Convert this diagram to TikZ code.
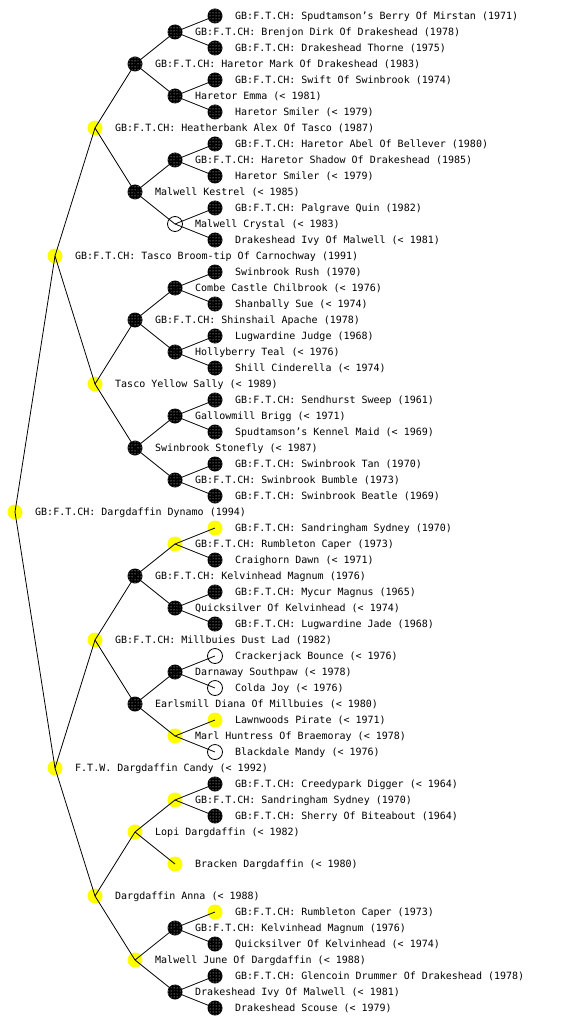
\documentclass[tikz,border=0pt]{standalone}
\usepackage{fontspec}
\usetikzlibrary{patterns}
\newfontfamily\pedfont{DejaVu Sans Mono}
\definecolor{dogyellow}{HTML}{FFFF00}

\tikzset{
  dog/.style={circle, minimum size=15pt, inner sep=0pt},
  darkdog/.style={dog, preaction={fill=black}, pattern=dots, pattern color=white},
  yellowdog/.style={dog, fill=dogyellow},
  blankdog/.style={dog, draw=black, fill=white, line width=0.8pt},
  dogname/.style={anchor=base west, inner sep=0pt, font=\pedfont},
  lineage/.style={line width=0.8pt},
}
% one entry of the pedigree: marker and its name beside it
\newcommand{\dog}[5]{%
  \node[#4] (#1) at (#2,#3) {};
  \node[dogname] (#1n) at (#2+20,#3+3.6) {#5};}

\begin{document}
\begin{tikzpicture}[x=1pt, y=-1pt]
  \fill[white] (0,0) rectangle (560,1024);
  \useasboundingbox (0,0) rectangle (560,1024);

  % the dog and its parents
  \dog{p}{15}{512}{yellowdog}{GB:F.T.CH: Dargdaffin Dynamo (1994)}
  \dog{ps}{55}{256}{yellowdog}{GB:F.T.CH: Tasco Broom-tip Of Carnochway (1991)}
  \dog{pd}{55}{768}{yellowdog}{F.T.W. Dargdaffin Candy (< 1992)}
  % grandparents
  \dog{pss}{95}{128}{yellowdog}{GB:F.T.CH: Heatherbank Alex Of Tasco (1987)}
  \dog{psd}{95}{384}{yellowdog}{Tasco Yellow Sally (< 1989)}
  \dog{pds}{95}{640}{yellowdog}{GB:F.T.CH: Millbuies Dust Lad (1982)}
  \dog{pdd}{95}{896}{yellowdog}{Dargdaffin Anna (< 1988)}
  % third generation
  \dog{psss}{135}{64}{darkdog}{GB:F.T.CH: Haretor Mark Of Drakeshead (1983)}
  \dog{pssd}{135}{192}{darkdog}{Malwell Kestrel (< 1985)}
  \dog{psds}{135}{320}{darkdog}{GB:F.T.CH: Shinshail Apache (1978)}
  \dog{psdd}{135}{448}{darkdog}{Swinbrook Stonefly (< 1987)}
  \dog{pdss}{135}{576}{darkdog}{GB:F.T.CH: Kelvinhead Magnum (1976)}
  \dog{pdsd}{135}{704}{darkdog}{Earlsmill Diana Of Millbuies (< 1980)}
  \dog{pdds}{135}{832}{yellowdog}{Lopi Dargdaffin (< 1982)}
  \dog{pddd}{135}{960}{yellowdog}{Malwell June Of Dargdaffin (< 1988)}
  % fourth generation
  \dog{pssss}{175}{32}{darkdog}{GB:F.T.CH: Brenjon Dirk Of Drakeshead (1978)}
  \dog{psssd}{175}{96}{darkdog}{Haretor Emma (< 1981)}
  \dog{pssds}{175}{160}{darkdog}{GB:F.T.CH: Haretor Shadow Of Drakeshead (1985)}
  \dog{pssdd}{175}{224}{blankdog}{Malwell Crystal (< 1983)}
  \dog{psdss}{175}{288}{darkdog}{Combe Castle Chilbrook (< 1976)}
  \dog{psdsd}{175}{352}{darkdog}{Hollyberry Teal (< 1976)}
  \dog{psdds}{175}{416}{darkdog}{Gallowmill Brigg (< 1971)}
  \dog{psddd}{175}{480}{darkdog}{GB:F.T.CH: Swinbrook Bumble (1973)}
  \dog{pdsss}{175}{544}{yellowdog}{GB:F.T.CH: Rumbleton Caper (1973)}
  \dog{pdssd}{175}{608}{darkdog}{Quicksilver Of Kelvinhead (< 1974)}
  \dog{pdsds}{175}{672}{darkdog}{Darnaway Southpaw (< 1978)}
  \dog{pdsdd}{175}{736}{yellowdog}{Marl Huntress Of Braemoray (< 1978)}
  \dog{pddss}{175}{800}{yellowdog}{GB:F.T.CH: Sandringham Sydney (1970)}
  \dog{pddsd}{175}{864}{yellowdog}{Bracken Dargdaffin (< 1980)}
  \dog{pddds}{175}{928}{darkdog}{GB:F.T.CH: Kelvinhead Magnum (1976)}
  \dog{pdddd}{175}{992}{darkdog}{Drakeshead Ivy Of Malwell (< 1981)}
  % fifth generation
  \dog{psssss}{215}{16}{darkdog}{GB:F.T.CH: Spudtamson’s Berry Of Mirstan (1971)}
  \dog{pssssd}{215}{48}{darkdog}{GB:F.T.CH: Drakeshead Thorne (1975)}
  \dog{psssds}{215}{80}{darkdog}{GB:F.T.CH: Swift Of Swinbrook (1974)}
  \dog{psssdd}{215}{112}{darkdog}{Haretor Smiler (< 1979)}
  \dog{pssdss}{215}{144}{darkdog}{GB:F.T.CH: Haretor Abel Of Bellever (1980)}
  \dog{pssdsd}{215}{176}{darkdog}{Haretor Smiler (< 1979)}
  \dog{pssdds}{215}{208}{darkdog}{GB:F.T.CH: Palgrave Quin (1982)}
  \dog{pssddd}{215}{240}{darkdog}{Drakeshead Ivy Of Malwell (< 1981)}
  \dog{psdsss}{215}{272}{darkdog}{Swinbrook Rush (1970)}
  \dog{psdssd}{215}{304}{darkdog}{Shanbally Sue (< 1974)}
  \dog{psdsds}{215}{336}{darkdog}{Lugwardine Judge (1968)}
  \dog{psdsdd}{215}{368}{darkdog}{Shill Cinderella (< 1974)}
  \dog{psddss}{215}{400}{darkdog}{GB:F.T.CH: Sendhurst Sweep (1961)}
  \dog{psddsd}{215}{432}{darkdog}{Spudtamson’s Kennel Maid (< 1969)}
  \dog{psddds}{215}{464}{darkdog}{GB:F.T.CH: Swinbrook Tan (1970)}
  \dog{psdddd}{215}{496}{darkdog}{GB:F.T.CH: Swinbrook Beatle (1969)}
  \dog{pdssss}{215}{528}{yellowdog}{GB:F.T.CH: Sandringham Sydney (1970)}
  \dog{pdsssd}{215}{560}{darkdog}{Craighorn Dawn (< 1971)}
  \dog{pdssds}{215}{592}{darkdog}{GB:F.T.CH: Mycur Magnus (1965)}
  \dog{pdssdd}{215}{624}{darkdog}{GB:F.T.CH: Lugwardine Jade (1968)}
  \dog{pdsdss}{215}{656}{blankdog}{Crackerjack Bounce (< 1976)}
  \dog{pdsdsd}{215}{688}{blankdog}{Colda Joy (< 1976)}
  \dog{pdsdds}{215}{720}{yellowdog}{Lawnwoods Pirate (< 1971)}
  \dog{pdsddd}{215}{752}{blankdog}{Blackdale Mandy (< 1976)}
  \dog{pddsss}{215}{784}{darkdog}{GB:F.T.CH: Creedypark Digger (< 1964)}
  \dog{pddssd}{215}{816}{darkdog}{GB:F.T.CH: Sherry Of Biteabout (1964)}
  \dog{pdddss}{215}{912}{yellowdog}{GB:F.T.CH: Rumbleton Caper (1973)}
  \dog{pdddsd}{215}{944}{darkdog}{Quicksilver Of Kelvinhead (< 1974)}
  \dog{pdddds}{215}{976}{darkdog}{GB:F.T.CH: Glencoin Drummer Of Drakeshead (1978)}
  \dog{pddddd}{215}{1008}{darkdog}{Drakeshead Scouse (< 1979)}

  % sire and dam lines
  \foreach \n in {p,ps,pd,pss,psd,pds,pdd,psss,pssd,psds,psdd,pdss,pdsd,pdds,pddd,
                  pssss,psssd,pssds,pssdd,psdss,psdsd,psdds,psddd,
                  pdsss,pdssd,pdsds,pdsdd,pddss,pddds,pdddd}
    \draw[lineage] (\n.center) -- (\n s.center) (\n.center) -- (\n d.center);
\end{tikzpicture}
\end{document}
